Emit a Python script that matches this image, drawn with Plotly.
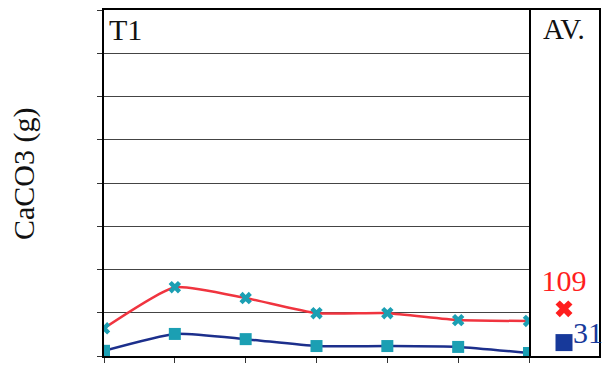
import plotly.graph_objects as go

# Sampling positions along the T1 panel
positions = [0, 1, 2, 3, 4, 5, 6]

# CaCO3 (g) per sampling position
red_series = [64, 159, 134, 99, 99, 83, 81]
blue_series = [12, 51, 39, 23, 23, 21, 7]

# Averages shown in the AV. panel
av_red = 109
av_blue = 31

RED = "#f0343f"
BLUE = "#1c2f8c"
TEAL = "#1b9fb3"
SERIF = "Liberation Serif"

W, H = 602, 366
ML, MR, MT, MB = 104, 3, 10, 10
plot_w = W - ML - MR
plot_h = H - MT - MB

fig = go.Figure()

fig.add_trace(go.Scatter(
    x=positions, y=red_series, mode="lines+markers",
    line=dict(color=RED, width=2.5, shape="spline", smoothing=0.5),
    marker=dict(symbol="x", size=11, color=TEAL, line=dict(width=0)),
    xaxis="x", yaxis="y", showlegend=False,
))
fig.add_trace(go.Scatter(
    x=positions, y=blue_series, mode="lines+markers",
    line=dict(color=BLUE, width=2.5, shape="spline", smoothing=0.5),
    marker=dict(symbol="square", size=12, color=TEAL),
    xaxis="x", yaxis="y", showlegend=False,
))

# Average markers with their value labels
fig.add_trace(go.Scatter(
    x=[0.5], y=[av_red], mode="markers+text",
    marker=dict(symbol="x", size=15, color="#ff1e1e", line=dict(width=0)),
    text=[str(av_red)], textposition="top center",
    textfont=dict(family=SERIF, size=30, color="#ff1e1e"),
    xaxis="x2", yaxis="y2", showlegend=False, cliponaxis=False,
))
fig.add_trace(go.Scatter(
    x=[0.5], y=[av_blue], mode="markers",
    marker=dict(symbol="square", size=17, color="#17399a"),
    xaxis="x2", yaxis="y2", showlegend=False, cliponaxis=False,
))

split = 425 / plot_w

axis_line = dict(showline=True, linecolor="black", linewidth=2, mirror=True,
                 zeroline=False)

annotations = [
    dict(text=str(av_blue), x=0.5, y=av_blue, xref="x2", yref="y2",
         showarrow=False, xanchor="left", yanchor="middle", xshift=7, yshift=10,
         font=dict(family=SERIF, size=30, color="#17399a")),
    dict(text="T1", x=0, y=1, xref="x domain", yref="y domain",
         xanchor="left", yanchor="top", xshift=3, yshift=-1, showarrow=False,
         font=dict(family=SERIF, size=30, color="#111")),
    dict(text="AV.", x=0.5, y=1, xref="x2 domain", yref="y2 domain",
         xanchor="center", yanchor="top", yshift=-1, showarrow=False,
         font=dict(family=SERIF, size=29, color="#111")),
    dict(text="CaCO3 (g)", x=(24 - ML) / plot_w, y=(H - MB - 174) / plot_h,
         xref="paper", yref="paper", xanchor="center", yanchor="middle",
         showarrow=False, textangle=-90,
         font=dict(family=SERIF, size=30, color="#111")),
]

fig.update_layout(
    width=W, height=H,
    margin=dict(l=ML, r=MR, t=MT, b=MB),
    paper_bgcolor="white", plot_bgcolor="white",
    xaxis=dict(domain=[0, split], range=[0, 6], tickvals=positions,
               ticks="outside", ticklen=5, tickcolor="#333",
               showticklabels=False, showgrid=False, **axis_line),
    yaxis=dict(domain=[0, 1], range=[0, 800], dtick=100,
               ticks="outside", ticklen=5, tickcolor="#333",
               showticklabels=False, showgrid=True, gridcolor="#444",
               gridwidth=1, **axis_line),
    xaxis2=dict(domain=[split, 1], range=[0, 1], anchor="y2",
                showticklabels=False, ticks="", showgrid=False, **axis_line),
    yaxis2=dict(domain=[0, 1], range=[0, 800], anchor="x2", matches="y",
                showticklabels=False, ticks="", showgrid=False,
                showline=True, linecolor="black", linewidth=2, mirror=False,
                side="right", zeroline=False),
    annotations=annotations,
)

fig.write_html("out.html")
